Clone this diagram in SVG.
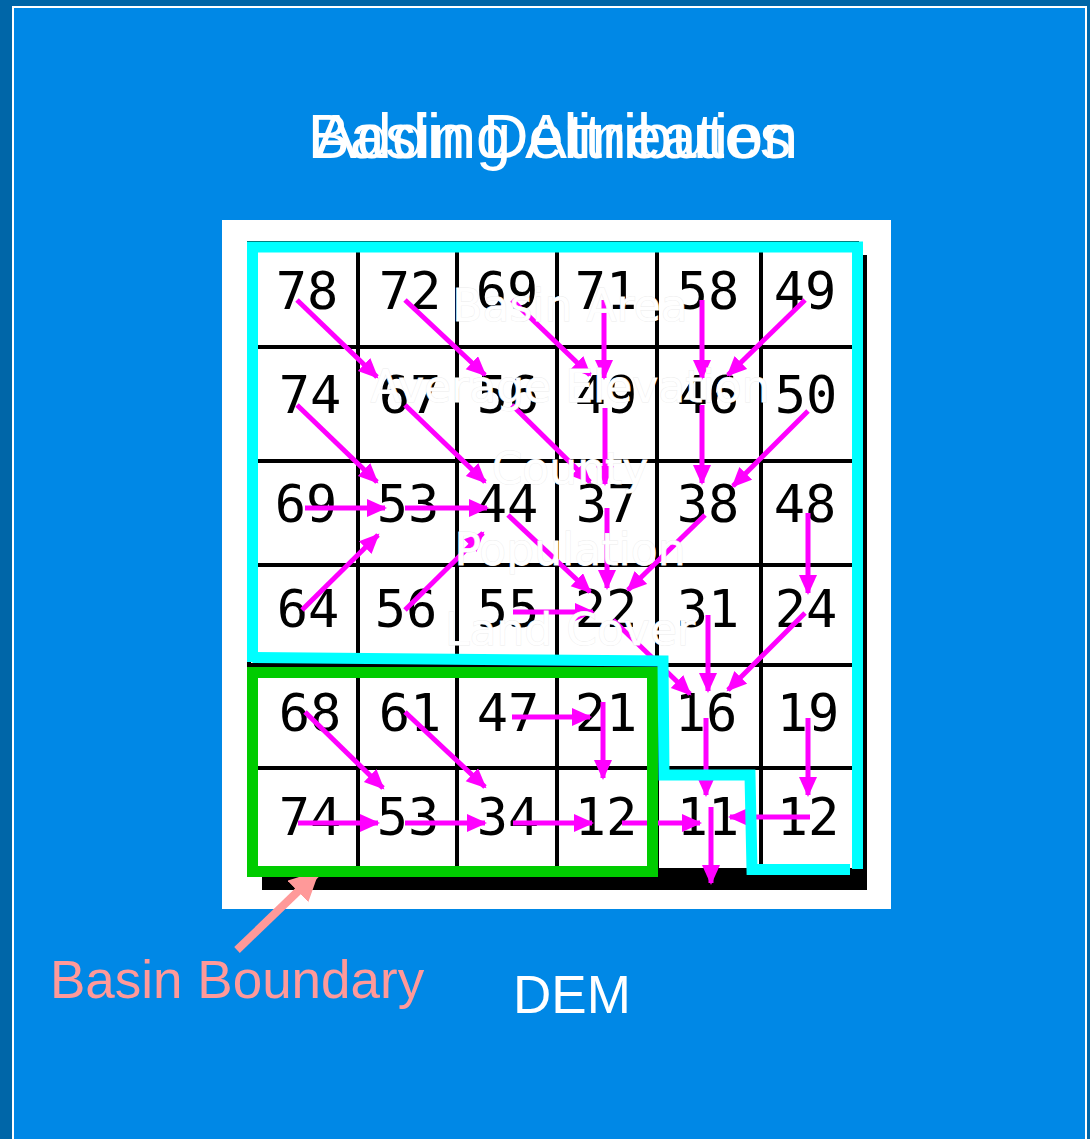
<svg xmlns="http://www.w3.org/2000/svg" width="1090" height="1139" viewBox="0 0 1090 1139">
<style>
.title{font-family:"Liberation Sans",Arial,sans-serif;font-size:63px;fill:#fff;text-anchor:middle}
.num{font-family:"DejaVu Sans Mono","Liberation Mono",monospace;font-size:52px;fill:#000;text-anchor:middle}
.attr{font-family:"DejaVu Sans",Verdana,sans-serif;font-size:44px;fill:#fff;text-anchor:middle;stroke:#ececec;stroke-width:0.8;paint-order:stroke}
.lbl{font-family:"Liberation Sans",Arial,sans-serif;font-size:53px}
.grid{stroke:#000;stroke-width:4}
.flow{stroke:#FF00FF;stroke-width:5;fill:none;marker-end:url(#mh)}
</style>
<defs>
<marker id="mh" markerUnits="userSpaceOnUse" markerWidth="22" markerHeight="20" refX="18" refY="9" orient="auto">
<path d="M0,0 L20,9 L0,18 Z" fill="#FF00FF"/>
</marker>
<marker id="ph" markerUnits="userSpaceOnUse" markerWidth="34" markerHeight="32" refX="28" refY="15" orient="auto">
<path d="M0,0 L30,15 L0,30 Z" fill="#FF9999"/>
</marker>
</defs>
<rect x="0" y="0" width="1090" height="1139" fill="#0066A8"/>
<rect x="13" y="7" width="1073" height="1140" fill="#0088E6" stroke="#fff" stroke-width="2"/>
<g id="title">
<text class="title" x="553" y="158">Basin Delineation</text>
<text class="title" x="553" y="158">Adding Attributes</text>
</g>
<g id="dem">
<rect x="222" y="220" width="669" height="689" fill="#fff"/>
<rect x="247" y="241" width="612" height="630" fill="#000"/>
<rect x="262" y="860" width="605" height="30" fill="#000"/>
<rect x="855" y="255" width="12" height="635" fill="#000"/>
<rect x="251" y="245" width="604" height="623" fill="#fff"/>
<g class="grid">
<line x1="358" y1="250" x2="358" y2="872"/>
<line x1="457" y1="250" x2="457" y2="872"/>
<line x1="557" y1="250" x2="557" y2="872"/>
<line x1="657" y1="250" x2="657" y2="872"/>
<line x1="761" y1="250" x2="761" y2="872"/>
<line x1="250" y1="347" x2="857" y2="347"/>
<line x1="250" y1="461" x2="857" y2="461"/>
<line x1="250" y1="565" x2="857" y2="565"/>
<line x1="250" y1="665" x2="857" y2="665"/>
<line x1="250" y1="768" x2="857" y2="768"/>
</g>
<g id="values">
<text class="num" x="307" y="309">78</text><text class="num" x="410" y="309">72</text><text class="num" x="507" y="309">69</text><text class="num" x="606" y="309">71</text><text class="num" x="708" y="309">58</text><text class="num" x="805" y="309">49</text>
<text class="num" x="310" y="413">74</text><text class="num" x="410" y="413">67</text><text class="num" x="508" y="413">56</text><text class="num" x="606" y="413">49</text><text class="num" x="708" y="413">46</text><text class="num" x="806" y="413">50</text>
<text class="num" x="306" y="522">69</text><text class="num" x="408" y="522">53</text><text class="num" x="507" y="522">44</text><text class="num" x="607" y="522">37</text><text class="num" x="708" y="522">38</text><text class="num" x="805" y="522">48</text>
<text class="num" x="308" y="627">64</text><text class="num" x="406" y="627">56</text><text class="num" x="508" y="627">55</text><text class="num" x="606" y="627">22</text><text class="num" x="708" y="627">31</text><text class="num" x="806" y="627">24</text>
<text class="num" x="310" y="731">68</text><text class="num" x="410" y="731">61</text><text class="num" x="508" y="731">47</text><text class="num" x="606" y="731">21</text><text class="num" x="706" y="731">16</text><text class="num" x="808" y="731">19</text>
<text class="num" x="310" y="835">74</text><text class="num" x="408" y="835">53</text><text class="num" x="508" y="835">34</text><text class="num" x="606" y="835">12</text><text class="num" x="708" y="835">11</text><text class="num" x="808" y="835">12</text>
</g>
</g>
<g id="connectors">
<line class="flow" x1="297" y1="300" x2="377" y2="377"/>
<line class="flow" x1="405" y1="300" x2="485" y2="375"/>
<line class="flow" x1="512" y1="300" x2="590" y2="375"/>
<line class="flow" x1="604" y1="300" x2="604" y2="378"/>
<line class="flow" x1="702" y1="300" x2="702" y2="378"/>
<line class="flow" x1="805" y1="300" x2="728" y2="375"/>
<line class="flow" x1="297" y1="405" x2="377" y2="482"/>
<line class="flow" x1="405" y1="405" x2="485" y2="482"/>
<line class="flow" x1="512" y1="405" x2="590" y2="482"/>
<line class="flow" x1="605" y1="408" x2="605" y2="484"/>
<line class="flow" x1="702" y1="405" x2="702" y2="483"/>
<line class="flow" x1="808" y1="411" x2="733" y2="486"/>
<line class="flow" x1="305" y1="508" x2="385" y2="508"/>
<line class="flow" x1="405" y1="508" x2="487" y2="508"/>
<line class="flow" x1="508" y1="515" x2="590" y2="592"/>
<line class="flow" x1="607" y1="508" x2="607" y2="588"/>
<line class="flow" x1="705" y1="515" x2="628" y2="590"/>
<line class="flow" x1="808" y1="513" x2="808" y2="593"/>
<line class="flow" x1="302" y1="610" x2="378" y2="535"/>
<line class="flow" x1="405" y1="610" x2="483" y2="533"/>
<line class="flow" x1="513" y1="612" x2="593" y2="612"/>
<line class="flow" x1="613" y1="620" x2="690" y2="694"/>
<line class="flow" x1="708" y1="615" x2="708" y2="691"/>
<line class="flow" x1="805" y1="613" x2="728" y2="690"/>
<line class="flow" x1="305" y1="712" x2="383" y2="788"/>
<line class="flow" x1="405" y1="712" x2="485" y2="787"/>
<line class="flow" x1="512" y1="717" x2="590" y2="717"/>
<line class="flow" x1="603" y1="702" x2="603" y2="778"/>
<line class="flow" x1="706" y1="718" x2="706" y2="795"/>
<line class="flow" x1="808" y1="718" x2="808" y2="795"/>
<line class="flow" x1="298" y1="823" x2="378" y2="823"/>
<line class="flow" x1="405" y1="823" x2="485" y2="823"/>
<line class="flow" x1="513" y1="823" x2="592" y2="823"/>
<line class="flow" x1="622" y1="823" x2="700" y2="823"/>
<line class="flow" x1="810" y1="817" x2="730" y2="817"/>
<line class="flow" x1="711" y1="807" x2="711" y2="883"/>
<line x1="237" y1="950" x2="318" y2="872" stroke="#FF9999" stroke-width="8" marker-end="url(#ph)"/>
</g>
<g id="basin-boundary">
<rect x="252.5" y="672.5" width="400" height="199" fill="none" stroke="#00CC00" stroke-width="11"/>
</g>
<g id="watershed-boundary">
<path d="M252.5,662 V247 H857.5 V869" fill="none" stroke="#00FFFF" stroke-width="11"/>
<path d="M252.5,657.5 L663,661 L664,775 H750 L752,869.5 H850" fill="none" stroke="#00FFFF" stroke-width="11"/>
</g>
<g id="attributes">
<text class="attr" x="570" y="321">Basin Area</text>
<text class="attr" x="570" y="402">Average Elevation</text>
<text class="attr" x="570" y="484">County</text>
<text class="attr" x="570" y="565">Population</text>
<text class="attr" x="570" y="645">Land Cover</text>
</g>
<text class="lbl" x="50" y="998" fill="#FF9999">Basin Boundary</text>
<text class="lbl" x="513" y="1013" fill="#fff">DEM</text>
</svg>
